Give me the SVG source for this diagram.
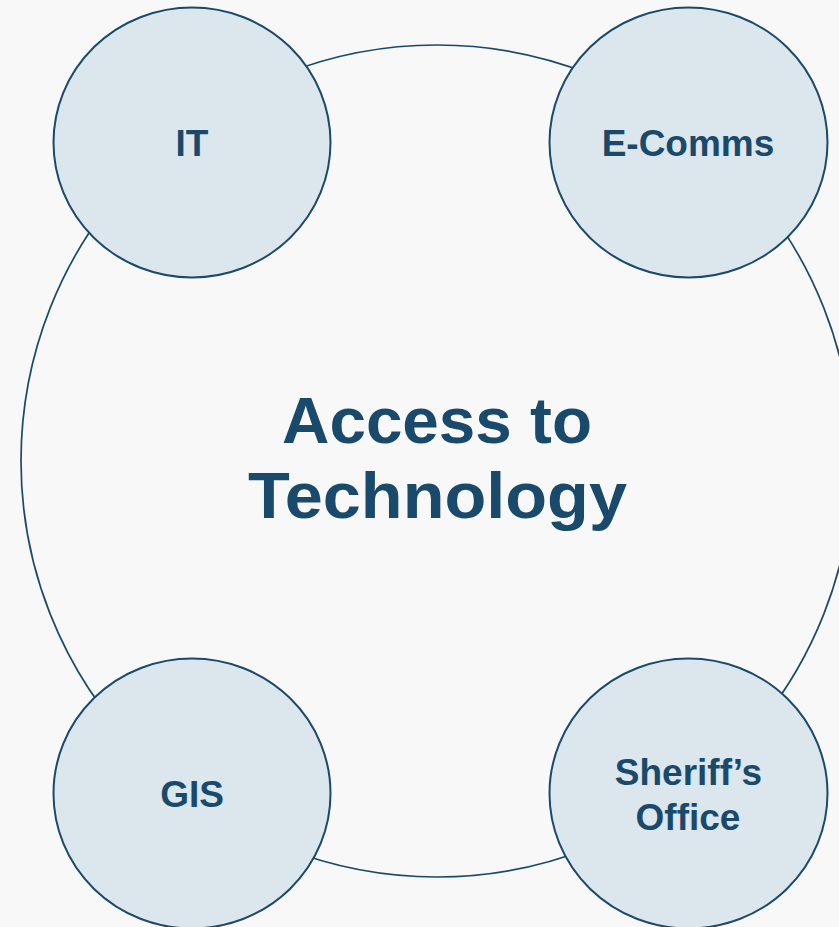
<svg xmlns="http://www.w3.org/2000/svg" width="839" height="927" viewBox="0 0 839 927">
<style>
.bg{fill:#f8f8f8}
.ring{fill:none;stroke:#1a4a6b;stroke-width:1.7}
.node{fill:#dce6ed;stroke:#1a4a6b;stroke-width:2}
.lbl{font-family:"Liberation Sans",Arial,sans-serif;font-weight:bold;fill:#1a4a6b;text-anchor:middle}
.small{font-size:37px}
.title{font-size:64px}
</style>
<rect class="bg" x="0" y="0" width="839" height="927"/>
<g id="connectors">
<circle class="ring" cx="437" cy="461" r="416"/>
</g>
<g id="center">
<text class="lbl title" x="437" y="443" textLength="310" lengthAdjust="spacingAndGlyphs">Access to</text>
<text class="lbl title" x="437.5" y="518" textLength="379" lengthAdjust="spacingAndGlyphs">Technology</text>
</g>
<g id="node-it">
<ellipse class="node" cx="192" cy="142.5" rx="138.5" ry="135"/>
<text class="lbl small" x="192" y="156">IT</text>
</g>
<g id="node-ecomms">
<ellipse class="node" cx="688.5" cy="142.5" rx="139" ry="135"/>
<text class="lbl small" x="688" y="156">E-Comms</text>
</g>
<g id="node-gis">
<ellipse class="node" cx="192" cy="793.5" rx="138.5" ry="135"/>
<text class="lbl small" x="192" y="807">GIS</text>
</g>
<g id="node-sheriff">
<ellipse class="node" cx="688.5" cy="793.5" rx="139" ry="135"/>
<text class="lbl small" x="688.5" y="785">Sheriff’s</text>
<text class="lbl small" x="688" y="830">Office</text>
</g>
</svg>
